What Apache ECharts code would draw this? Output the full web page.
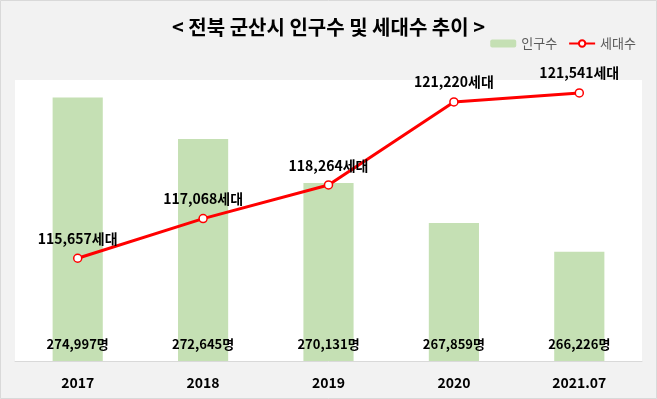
<!DOCTYPE html>
<html>
<head>
<meta charset="utf-8">
<script src="https://cdn.jsdelivr.net/npm/echarts@6/dist/echarts.min.js"></script>
<style>
html, body { margin: 0; padding: 0; background: #f2f2f2; }
#chart { width: 657px; height: 399px; }
</style>
</head>
<body>
<div id="chart"></div>
<script>
// 데이터
const years = ['2017', '2018', '2019', '2020', '2021.07'];
const population = [274997, 272645, 270131, 267859, 266226];
const households = [115657, 117068, 118264, 121220, 121541];

const fmt = (v) => v.toLocaleString('en-US');
const font = '"Noto Sans CJK KR", "Noto Sans", sans-serif';

const myChart = echarts.init(document.getElementById('chart'));

const option = {
  backgroundColor: '#f2f2f2',
  animation: false,
  textStyle: { fontFamily: font },
  title: {
    text: '< 전북 군산시 인구수 및 세대수 추이 >',
    left: 'center',
    top: 12,
    textStyle: { fontSize: 20, fontWeight: 'bold', color: '#000', fontFamily: font }
  },
  legend: {
    right: 16,
    top: 32,
    itemWidth: 26,
    itemHeight: 8,
    itemGap: 11,
    textStyle: { color: '#595959', fontSize: 13, fontFamily: font },
    data: ['인구수', '세대수']
  },
  graphic: [{
    type: 'rect',
    shape: { x: 0.5, y: 0.5, width: 656, height: 398 },
    style: { fill: null, stroke: '#d9d9d9', lineWidth: 1 },
    silent: true
  }],
  grid: {
    left: 15,
    right: 15,
    top: 80,
    bottom: 38,
    show: true,
    backgroundColor: '#ffffff',
    borderWidth: 0
  },
  xAxis: {
    type: 'category',
    data: years,
    axisTick: { show: false },
    axisLine: { lineStyle: { color: '#d9d9d9', width: 1 } },
    axisLabel: { color: '#000', fontSize: 14, fontWeight: 'bold', margin: 15, fontFamily: font }
  },
  yAxis: [
    { type: 'value', min: 260000, max: 276000, show: false, splitLine: { show: false } },
    { type: 'value', min: 112000, max: 122000, show: false, splitLine: { show: false } }
  ],
  series: [
    {
      name: '인구수',
      type: 'bar',
      data: population,
      barWidth: '40%',
      itemStyle: { color: '#c5e0b4' },
      label: {
        show: true,
        position: 'insideBottom',
        distance: 10,
        color: '#000',
        fontSize: 13,
        fontWeight: 'bold',
        fontFamily: font,
        formatter: (p) => fmt(p.value) + '명'
      }
    },
    {
      name: '세대수',
      type: 'line',
      yAxisIndex: 1,
      data: households,
      symbol: 'circle',
      symbolSize: 8,
      lineStyle: { color: '#ff0000', width: 3 },
      itemStyle: { color: '#ffffff', borderColor: '#ff0000', borderWidth: 1.5 },
      label: {
        show: true,
        position: 'top',
        distance: 8,
        color: '#000',
        fontSize: 14,
        fontWeight: 'bold',
        fontFamily: font,
        formatter: (p) => fmt(p.value) + '세대'
      }
    }
  ]
};

myChart.setOption(option);
</script>
</body>
</html>
